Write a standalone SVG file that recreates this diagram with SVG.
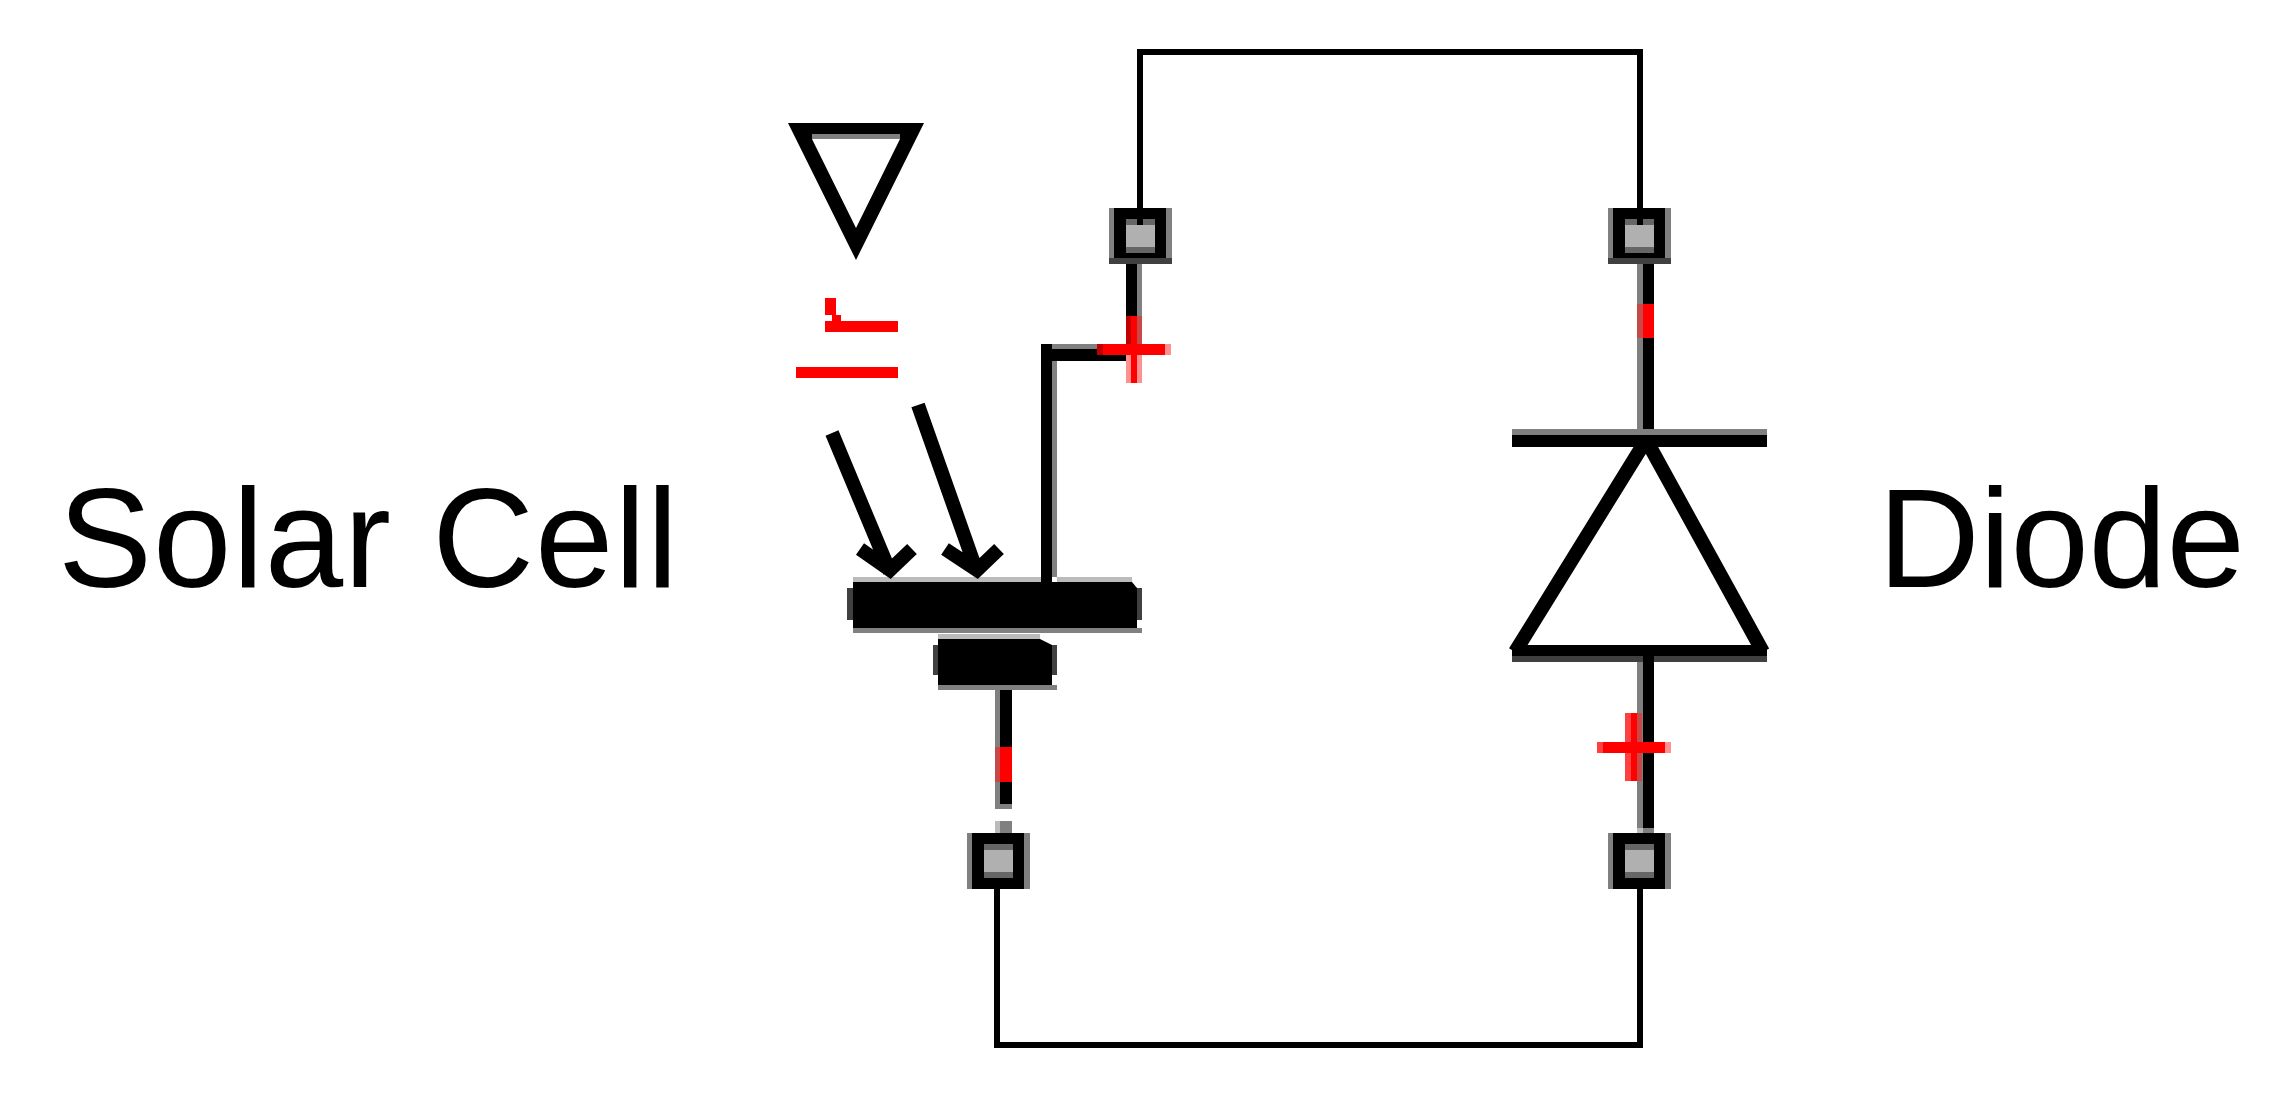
<svg xmlns="http://www.w3.org/2000/svg" width="2289" height="1104" viewBox="0 0 2289 1104">
<style>
.k{fill:#000}.g{fill:#808080}.l{fill:#bbb}.d{fill:#404040}.r{fill:#f00}
.rd{fill:#c00000}.rm{fill:#c84848}.rp{fill:#ff9090}.rs{fill:#ff4040}
.w{fill:none;stroke:#000;stroke-width:6;stroke-linejoin:miter}
.a{fill:none;stroke:#000;stroke-width:14;stroke-linecap:butt;stroke-linejoin:miter}
.t{font-family:"Liberation Sans",Arial,sans-serif;font-size:141px;fill:#000}
.pi{fill:#b0b0b0}.pd{fill:#666}
</style>
<defs>
<g id="port">
<rect x="0" y="0" width="63" height="56" class="g"/>
<rect x="5" y="0" width="52" height="56" class="k"/>
<rect x="17" y="11" width="29" height="34" class="pd"/>
<rect x="17" y="17" width="29" height="22" class="pi"/>
</g>
</defs>
<rect width="2289" height="1104" fill="#fff"/>
<g id="connectors">
<path class="w" d="M1140 225V52H1640V225"/>
<path class="w" d="M997 889V1045H1640V889"/>
</g>
<g id="solar-cell">
<rect x="1126" y="264" width="16" height="85" class="g"/>
<rect x="1126" y="264" width="11" height="90" class="k"/>
<rect x="1041" y="344" width="90" height="5" class="g"/>
<rect x="1041" y="349" width="90" height="12" class="k"/>
<rect x="1052" y="361" width="5" height="216" class="g"/>
<rect x="1041" y="344" width="11" height="238" class="k"/>
<rect x="853" y="577" width="188" height="5" class="l"/>
<rect x="1057" y="577" width="75" height="5" class="l"/>
<rect x="847" y="588" width="295" height="32" class="d"/>
<path class="k" d="M853 582H1132L1137 588V628H853Z"/>
<rect x="853" y="628" width="289" height="5" class="g"/>
<rect x="938" y="634" width="102" height="5" class="l"/>
<rect x="933" y="645" width="124" height="30" class="d"/>
<path class="k" d="M938 639H1040L1052 645V685H938Z"/>
<rect x="938" y="685" width="119" height="5" class="g"/>
<rect x="995" y="690" width="17" height="119" class="g"/>
<rect x="1000" y="690" width="12" height="114" class="k"/>
<rect x="995" y="747" width="5" height="35" class="rm"/>
<rect x="1000" y="747" width="12" height="35" class="r"/>
<rect x="995" y="821" width="5" height="12" class="l"/>
<rect x="1000" y="821" width="12" height="12" class="g"/>
<use href="#port" x="1109" y="208"/>
<rect x="1109" y="258" width="63" height="6" class="d"/>
<use href="#port" x="967" y="833"/>
<rect x="1137" y="208" width="6" height="17" class="k"/>
<rect x="1126" y="316" width="5" height="28" class="rd"/>
<rect x="1131" y="316" width="6" height="67" class="r"/>
<rect x="1137" y="316" width="5" height="28" class="rm"/>
<rect x="1126" y="355" width="5" height="28" class="rp"/>
<rect x="1137" y="355" width="5" height="28" class="rp"/>
<rect x="1097" y="344" width="6" height="11" class="rd"/>
<rect x="1103" y="344" width="62" height="11" class="r"/>
<rect x="1165" y="344" width="6" height="11" class="rp"/>
<path class="k" d="M788 123H924L856 260ZM812 139L856 228L900 139Z" fill-rule="evenodd"/>
<rect x="812" y="134" width="88" height="5" class="g"/>
<rect x="825" y="298" width="11" height="17" class="r"/>
<rect x="832" y="315" width="9" height="6" class="r"/>
<rect x="825" y="321" width="73" height="11" class="r"/>
<rect x="796" y="367" width="102" height="11" class="r"/>
<path class="a" d="M832 433L890 572M860 549L890 570L912 549"/>
<path class="a" d="M918 405L977 572M945 549L977 570L999 549"/>
<text class="t" x="58" y="587" textLength="620">Solar Cell</text>
</g>
<g id="diode">
<rect x="1637" y="264" width="17" height="170" class="g"/>
<rect x="1643" y="264" width="11" height="182" class="k"/>
<rect x="1637" y="304" width="6" height="34" class="rm"/>
<rect x="1643" y="304" width="11" height="34" class="r"/>
<rect x="1512" y="429" width="255" height="6" class="g"/>
<rect x="1512" y="435" width="255" height="12" class="k"/>
<path d="M1643 445L1515 652M1649 445L1763 652" fill="none" stroke="#000" stroke-width="14"/>
<rect x="1512" y="645" width="255" height="11" class="k"/>
<rect x="1512" y="656" width="255" height="6" class="d"/>
<rect x="1637" y="662" width="17" height="166" class="g"/>
<rect x="1643" y="656" width="11" height="172" class="k"/>
<rect x="1637" y="828" width="6" height="5" class="l"/>
<rect x="1643" y="828" width="11" height="5" class="g"/>
<use href="#port" x="1608" y="208"/>
<rect x="1608" y="258" width="63" height="6" class="d"/>
<use href="#port" x="1608" y="833"/>
<rect x="1637" y="208" width="6" height="17" class="k"/>
<rect x="1625" y="713" width="6" height="68" class="rs"/>
<rect x="1631" y="713" width="6" height="68" class="r"/>
<rect x="1637" y="713" width="5" height="68" class="rm"/>
<rect x="1597" y="742" width="6" height="11" class="rs"/>
<rect x="1603" y="742" width="62" height="11" class="r"/>
<rect x="1665" y="742" width="6" height="11" class="rp"/>
<text class="t" x="1878" y="587" textLength="367">Diode</text>
</g>
</svg>
